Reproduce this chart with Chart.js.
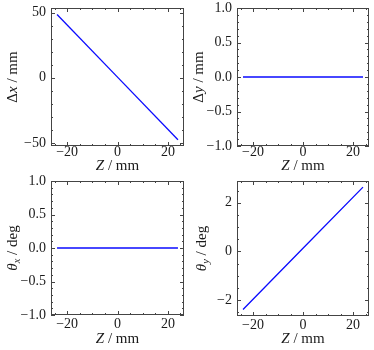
<!DOCTYPE html>
<html>
<head>
<meta charset="utf-8">
<script src="https://cdn.jsdelivr.net/npm/chart.js@4.4.1/dist/chart.umd.min.js"></script>
<style>
  html, body { margin: 0; padding: 0; background: #fff; overflow: hidden; }
  #wrap { position: relative; width: 374px; height: 350px; overflow: hidden; }
  .panel { position: absolute; width: 187px; height: 185px; }
</style>
</head>
<body>
<div id="wrap">
  <div class="panel" style="left:0;top:-10px"><canvas id="c-dx"></canvas></div>
  <div class="panel" style="left:187px;top:-10px"><canvas id="c-dy"></canvas></div>
  <div class="panel" style="left:0;top:165px"><canvas id="c-tx"></canvas></div>
  <div class="panel" style="left:187px;top:165px"><canvas id="c-ty"></canvas></div>
</div>
<script>
// Data
const zValues = [-24, 0, 24];
const deltaX = [48.6, 0.5, -47.6];
const deltaY = [0, 0, 0];
const thetaX = [0, 0, 0];
const thetaY = [-2.38, 0.13, 2.64];

// Tick values and labels
const zTicks = [-20, 0, 20];
const zTickLabels = ['−20', '0', '20'];
const dxTicks = [-50, 0, 50];
const dxTickLabels = ['−50', '0', '50'];
const unitTicks = [-1, -0.5, 0, 0.5, 1];
const unitTickLabels = ['−1.0', '−0.5', '0.0', '0.5', '1.0'];
const tyTicks = [-2, 0, 2];
const tyTickLabels = ['−2', '0', '2'];

const LINE_COLOR = '#0a0aff';
const FRAME_COLOR = '#444';
const TEXT_COLOR = '#1a1a1a';
const FONT = '"Liberation Serif", "DejaVu Serif", serif';
const TICK_SIZE = 14;
const TITLE_SIZE = 15;

/**
 * Draws a text made of plain / italic / subscript pieces, centred on (0,0)
 */
function drawRich(ctx, segs, size) {
  const fontOf = s => `${s.italic ? 'italic ' : ''}${s.sub ? size * 0.7 : size}px ${FONT}`;
  let total = 0;
  segs.forEach(s => { ctx.font = fontOf(s); total += ctx.measureText(s.t).width; });
  let x = -total / 2;
  ctx.textBaseline = 'middle';
  ctx.textAlign = 'left';
  segs.forEach(s => {
    ctx.font = fontOf(s);
    ctx.fillText(s.t, x, s.sub ? size * 0.3 : 0);
    x += ctx.measureText(s.t).width;
  });
}

// Frame, inward ticks on all sides and the axis titles
const framePlugin = {
  id: 'frame',
  afterDraw(chart, args, opts) {
    const { ctx, chartArea: a, scales: { x, y } } = chart;
    ctx.save();
    ctx.strokeStyle = FRAME_COLOR;
    ctx.lineWidth = 1;

    const seg = (x1, y1, x2, y2) => { ctx.beginPath(); ctx.moveTo(x1, y1); ctx.lineTo(x2, y2); ctx.stroke(); };
    const minorOf = (min, max, step) => {
      const out = [];
      for (let v = Math.ceil(min / step) * step; v <= max + 1e-9; v += step) out.push(v);
      return out;
    };
    const xTick = (v, len) => {
      const px = Math.round(x.getPixelForValue(v)) + 0.5;
      seg(px, a.bottom, px, a.bottom - len);
      seg(px, a.top, px, a.top + len);
    };
    const yTick = (v, len) => {
      const py = Math.round(y.getPixelForValue(v)) + 0.5;
      seg(a.left, py, a.left + len, py);
      seg(a.right, py, a.right - len, py);
    };
    minorOf(x.min, x.max, opts.xMinor).forEach(v => xTick(v, 2));
    minorOf(y.min, y.max, opts.yMinor).forEach(v => yTick(v, 2));
    opts.xTicks.forEach(v => xTick(v, 4));
    opts.yTicks.forEach(v => yTick(v, 4));

    ctx.strokeRect(Math.round(a.left) + 0.5, Math.round(a.top) + 0.5,
      Math.round(a.right - a.left) - 1, Math.round(a.bottom - a.top) - 1);

    ctx.fillStyle = TEXT_COLOR;
    // x title
    ctx.save();
    ctx.translate((a.left + a.right) / 2, opts.xTitleY);
    drawRich(ctx, [{ t: 'Z', italic: true }, { t: ' / mm' }], TITLE_SIZE);
    ctx.restore();
    // y title
    ctx.save();
    ctx.translate(opts.yTitleX, (a.top + a.bottom) / 2);
    ctx.rotate(-Math.PI / 2);
    drawRich(ctx, opts.yTitle, TITLE_SIZE);
    ctx.restore();
    ctx.restore();
  }
};

function makePanel(id, values, yMin, yMax, yTicks, yTickLabels, yMinor, yTitle, box) {
  const canvas = document.getElementById(id);
  return new Chart(canvas, {
    type: 'line',
    data: {
      datasets: [{
        data: zValues.map((z, i) => ({ x: z, y: values[i] })),
        borderColor: LINE_COLOR,
        borderWidth: 1.3,
        pointRadius: 0,
        tension: 0,
        fill: false
      }]
    },
    options: {
      responsive: true,
      maintainAspectRatio: false,
      animation: false,
      events: [],
      layout: { padding: { top: box.top, right: box.right, left: 0, bottom: 0 } },
      plugins: {
        legend: { display: false },
        tooltip: { enabled: false },
        frame: {
          xTicks: zTicks, yTicks: yTicks, xMinor: 5, yMinor: yMinor,
          yTitle: yTitle, yTitleX: box.yTitleX, xTitleY: box.xTitleY
        }
      },
      scales: {
        x: {
          type: 'linear',
          min: -26.4,
          max: 26.4,
          grid: { display: false, drawTicks: false },
          border: { display: false },
          afterBuildTicks: s => { s.ticks = zTicks.map(v => ({ value: v })); },
          afterFit: s => { s.height = box.xAxisH; },
          ticks: {
            color: TEXT_COLOR,
            font: { family: FONT, size: TICK_SIZE },
            padding: box.tickPad,
            maxRotation: 0,
            autoSkip: false,
            callback: (v, i) => zTickLabels[i]
          }
        },
        y: {
          type: 'linear',
          min: yMin,
          max: yMax,
          grid: { display: false, drawTicks: false },
          border: { display: false },
          afterBuildTicks: s => { s.ticks = yTicks.map(v => ({ value: v })); },
          afterFit: s => { s.width = box.left; },
          ticks: {
            color: TEXT_COLOR,
            font: { family: FONT, size: TICK_SIZE },
            padding: 5,
            autoSkip: false,
            callback: (v, i) => yTickLabels[i]
          }
        }
      }
    },
    plugins: [framePlugin]
  });
}

// canvas coords: top row canvases start at y=-10, bottom row at y=165
const topBox = { top: 18, right: 3, left: 51, xAxisH: 29, tickPad: -2, yTitleX: 13, xTitleY: 176 };
const topBoxR = { top: 18, right: 5, left: 50, xAxisH: 29, tickPad: -2, yTitleX: 12, xTitleY: 176 };
const botBox = { top: 16, right: 3, left: 51, xAxisH: 35, tickPad: 1, yTitleX: 13, xTitleY: 174 };
const botBoxR = { top: 16, right: 5, left: 50, xAxisH: 34, tickPad: 1, yTitleX: 15, xTitleY: 174 };

makePanel('c-dx', deltaX, -52.4, 53.6, dxTicks, dxTickLabels, 10,
  [{ t: 'Δ' }, { t: 'x', italic: true }, { t: ' / mm' }], topBox);
makePanel('c-dy', deltaY, -1, 1, unitTicks, unitTickLabels, 0.1,
  [{ t: 'Δ' }, { t: 'y', italic: true }, { t: ' / mm' }], topBoxR);
makePanel('c-tx', thetaX, -1, 1, unitTicks, unitTickLabels, 0.1,
  [{ t: 'θ', italic: true }, { t: 'x', italic: true, sub: true }, { t: ' / deg' }], botBox);
makePanel('c-ty', thetaY, -2.65, 2.89, tyTicks, tyTickLabels, 0.5,
  [{ t: 'θ', italic: true }, { t: 'y', italic: true, sub: true }, { t: ' / deg' }], botBoxR);
</script>
</body>
</html>
